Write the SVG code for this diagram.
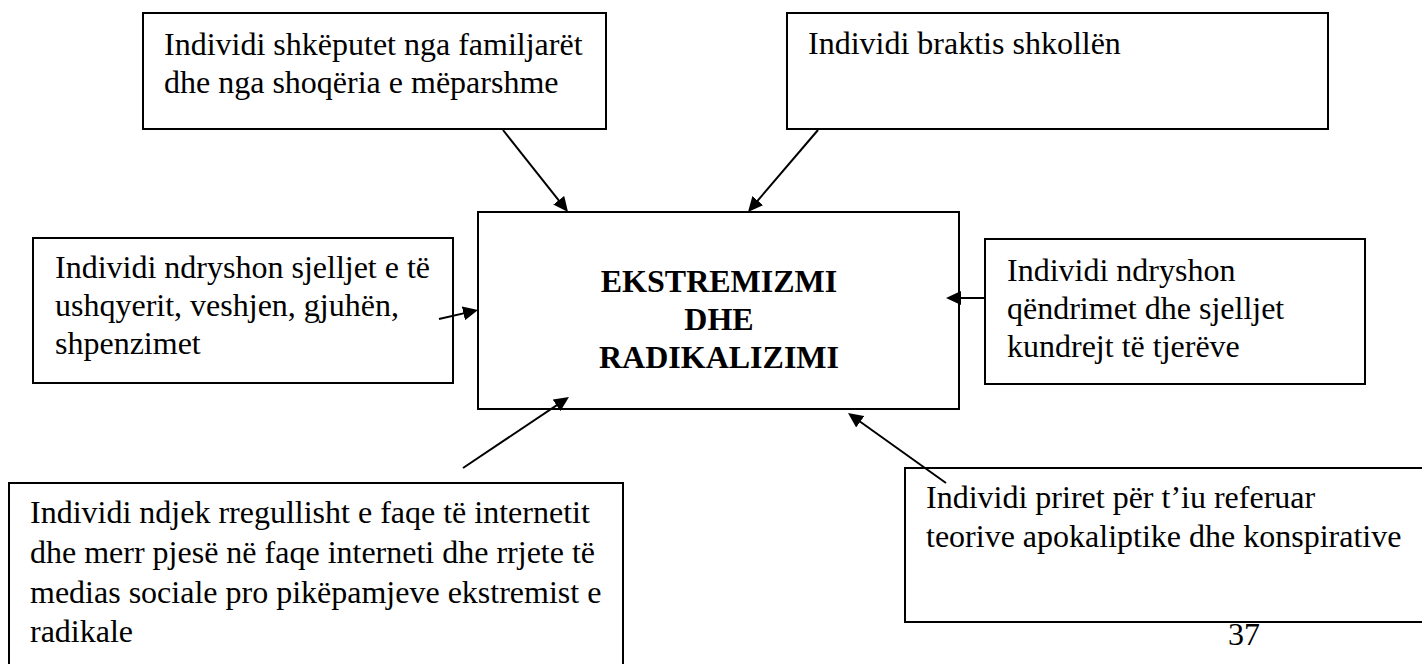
<svg xmlns="http://www.w3.org/2000/svg" width="1422" height="664" viewBox="0 0 1422 664">
<style>
.box{fill:#fff;stroke:#000;stroke-width:2}
.t{font-family:"Liberation Serif","Times New Roman",serif;font-size:32px;fill:#000}
.c{font-family:"Liberation Serif","Times New Roman",serif;font-size:32px;font-weight:bold;fill:#000;text-anchor:middle}
.conn{stroke:#000;stroke-width:2;fill:none;marker-end:url(#ah)}
</style>
<defs>
<marker id="ah" markerUnits="userSpaceOnUse" markerWidth="16" markerHeight="14" refX="9" refY="7" orient="auto">
<path d="M0,0 L15,7 L0,14 z" fill="#000"/>
</marker>
</defs>
<rect width="1422" height="664" fill="#fff"/>
<g id="n1"><rect class="box" x="143" y="13" width="463" height="116"/>
<text class="t" x="164" y="55">Individi shkëputet nga familjarët</text>
<text class="t" x="164" y="93">dhe nga shoqëria e mëparshme</text></g>
<g id="n2"><rect class="box" x="787" y="13" width="541" height="116"/>
<text class="t" x="808" y="54">Individi braktis shkollën</text></g>
<g id="n3"><rect class="box" x="33" y="238" width="420" height="145"/>
<text class="t" x="55" y="278">Individi ndryshon sjelljet e të</text>
<text class="t" x="55" y="316">ushqyerit, veshjen, gjuhën,</text>
<text class="t" x="55" y="354">shpenzimet</text></g>
<g id="center"><rect class="box" x="478" y="212" width="481" height="197"/>
<text class="c" x="719" y="292">EKSTREMIZMI</text>
<text class="c" x="719" y="330">DHE</text>
<text class="c" x="719" y="368">RADIKALIZIMI</text></g>
<g id="n4"><rect class="box" x="985" y="239" width="380" height="145"/>
<text class="t" x="1007" y="281">Individi ndryshon</text>
<text class="t" x="1007" y="319">qëndrimet dhe sjelljet</text>
<text class="t" x="1007" y="357">kundrejt të tjerëve</text></g>
<g id="n5"><rect class="box" x="9" y="483" width="614" height="200"/>
<text class="t" x="30" y="523">Individi ndjek rregullisht e faqe të internetit</text>
<text class="t" x="30" y="563">dhe merr pjesë në faqe interneti dhe rrjete të</text>
<text class="t" x="30" y="603">medias sociale pro pikëpamjeve ekstremist e</text>
<text class="t" x="30" y="642">radikale</text></g>
<g id="n6"><rect class="box" x="905" y="468" width="530" height="154"/>
<text class="t" x="926" y="508">Individi priret për t’iu referuar</text>
<text class="t" x="926" y="547">teorive apokaliptike dhe konspirative</text></g>
<g id="connectors">
<line class="conn" x1="503" y1="130" x2="564.3" y2="207.3"/>
<line class="conn" x1="818" y1="130" x2="751.9" y2="207.4"/>
<line class="conn" x1="439" y1="319" x2="472.2" y2="311.4"/>
<line class="conn" x1="985" y1="298" x2="952" y2="298"/>
<line class="conn" x1="463" y1="468" x2="564" y2="400.3"/>
<line class="conn" x1="946" y1="483" x2="852.9" y2="416.5"/>
</g>
<text class="t" x="1228" y="645">37</text>
</svg>
